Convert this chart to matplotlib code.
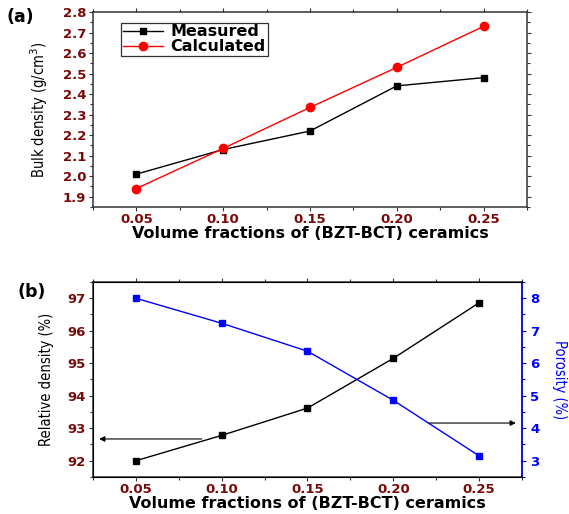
import matplotlib

matplotlib.use("Agg")
import matplotlib.pyplot as plt
from matplotlib.ticker import MultipleLocator

fractions = [0.05, 0.10, 0.15, 0.20, 0.25]
bulk_measured = [2.01, 2.13, 2.22, 2.44, 2.48]
bulk_calculated = [1.94, 2.135, 2.335, 2.53, 2.73]
relative_density = [92.0, 92.78, 93.62, 95.15, 96.86]
porosity = [8.0, 7.23, 6.37, 4.86, 3.15]

x_ticks = [0.05, 0.10, 0.15, 0.20, 0.25]
x_tick_labels = ["0.05", "0.10", "0.15", "0.20", "0.25"]

TICK_RED = "#7a0a0a"
SPINE = "#333333"
BOLD = dict(family="DejaVu Sans", weight="bold")
NARROW = dict(family="DejaVu Sans", stretch="condensed")
TICK_SIZE = 9.5

fig = plt.figure(figsize=(5.69, 5.14), dpi=100)
ax_a = fig.add_axes([0.1634, 0.5973, 0.7627, 0.3794])
ax_b = fig.add_axes([0.1634, 0.072, 0.754, 0.3794])


def style_axis(ax):
    for sp in ax.spines.values():
        sp.set_color(SPINE)
        sp.set_linewidth(1.1)
    ax.set_xlim(0.025, 0.275)
    ax.set_xticks(x_ticks)
    ax.set_xticklabels(x_tick_labels, fontsize=TICK_SIZE, color=TICK_RED, **BOLD)
    ax.xaxis.set_minor_locator(MultipleLocator(0.025))
    ax.tick_params(axis="x", which="both", direction="out", colors=SPINE, labelcolor=TICK_RED,
                   top=True, length=3, width=0.8, pad=1.5)
    ax.tick_params(axis="x", which="minor", length=2)
    ax.set_xlabel("Volume fractions of (BZT-BCT) ceramics", fontsize=11.5, labelpad=0, **BOLD)


def bold_yticks(ax):
    for lab in ax.get_yticklabels():
        lab.set_fontsize(TICK_SIZE)
        lab.set_fontweight("bold")


# (a) bulk density
ax_a.plot(fractions, bulk_measured, color="black", lw=1, marker="s", ms=5, label="Measured")
ax_a.plot(fractions, bulk_calculated, color="red", lw=1, marker="o", ms=6, label="Calculated")
style_axis(ax_a)
ax_a.set_ylim(1.85, 2.8)
ax_a.yaxis.set_major_locator(MultipleLocator(0.1))
ax_a.yaxis.set_minor_locator(MultipleLocator(0.05))
ax_a.tick_params(axis="y", which="both", direction="out", colors=SPINE, labelcolor=TICK_RED,
                 length=3, width=0.8, pad=2)
ax_a.tick_params(axis="y", which="minor", length=2)
ax_a.tick_params(axis="y", which="both", right=True)
bold_yticks(ax_a)
ax_a.set_ylabel("Bulk density (g/cm$^3$)", fontsize=10.5, labelpad=9, **NARROW)
leg = ax_a.legend(loc="upper left", bbox_to_anchor=(0.065, 0.944), frameon=True, fancybox=False,
                  edgecolor="black", handlelength=2.5, borderpad=0.1, labelspacing=0.0,
                  handletextpad=0.5, borderaxespad=0,
                  prop=dict(family="DejaVu Sans", weight="bold", size=11.5))
leg.get_frame().set_linewidth(0.9)
fig.text(0.012, 0.985, "(a)", fontsize=12.5, va="top", **BOLD)

# (b) relative density and porosity
ax_b.plot(fractions, relative_density, color="black", lw=1, marker="s", ms=5)
style_axis(ax_b)
ax_b.set_ylim(91.5, 97.5)
ax_b.yaxis.set_major_locator(MultipleLocator(1))
ax_b.yaxis.set_minor_locator(MultipleLocator(0.5))
ax_b.tick_params(axis="y", which="both", direction="out", colors=SPINE, labelcolor=TICK_RED,
                 length=3, width=0.8, pad=2)
ax_b.tick_params(axis="y", which="minor", length=2)
bold_yticks(ax_b)
ax_b.set_ylabel("Relative density (%)", fontsize=10.5, labelpad=10, **NARROW)

ax_p = ax_b.twinx()
ax_p.plot(fractions, porosity, color="blue", lw=1, marker="s", ms=5)
ax_p.set_ylim(2.5, 8.5)
ax_p.yaxis.set_major_locator(MultipleLocator(1))
ax_p.yaxis.set_minor_locator(MultipleLocator(0.5))
ax_p.spines["right"].set_color("blue")
ax_p.spines["right"].set_linewidth(1.1)
ax_p.tick_params(axis="y", which="both", direction="out", colors="blue", length=3, width=0.8, pad=3)
ax_p.tick_params(axis="y", which="minor", length=2)
bold_yticks(ax_p)
ax_p.set_ylabel("Porosity (%)", fontsize=10.5, color="blue", rotation=270, labelpad=20, **NARROW)

arrow = dict(arrowstyle="-|>", color="black", lw=0.8, mutation_scale=8)
ax_b.annotate("", xy=(0.027, 92.67), xytext=(0.09, 92.67), arrowprops=arrow)
ax_p.annotate("", xy=(0.273, 4.16), xytext=(0.219, 4.16), arrowprops=arrow)
fig.text(0.03, 0.45, "(b)", fontsize=12.5, va="top", **BOLD)

fig.savefig("out.png", dpi=100)
